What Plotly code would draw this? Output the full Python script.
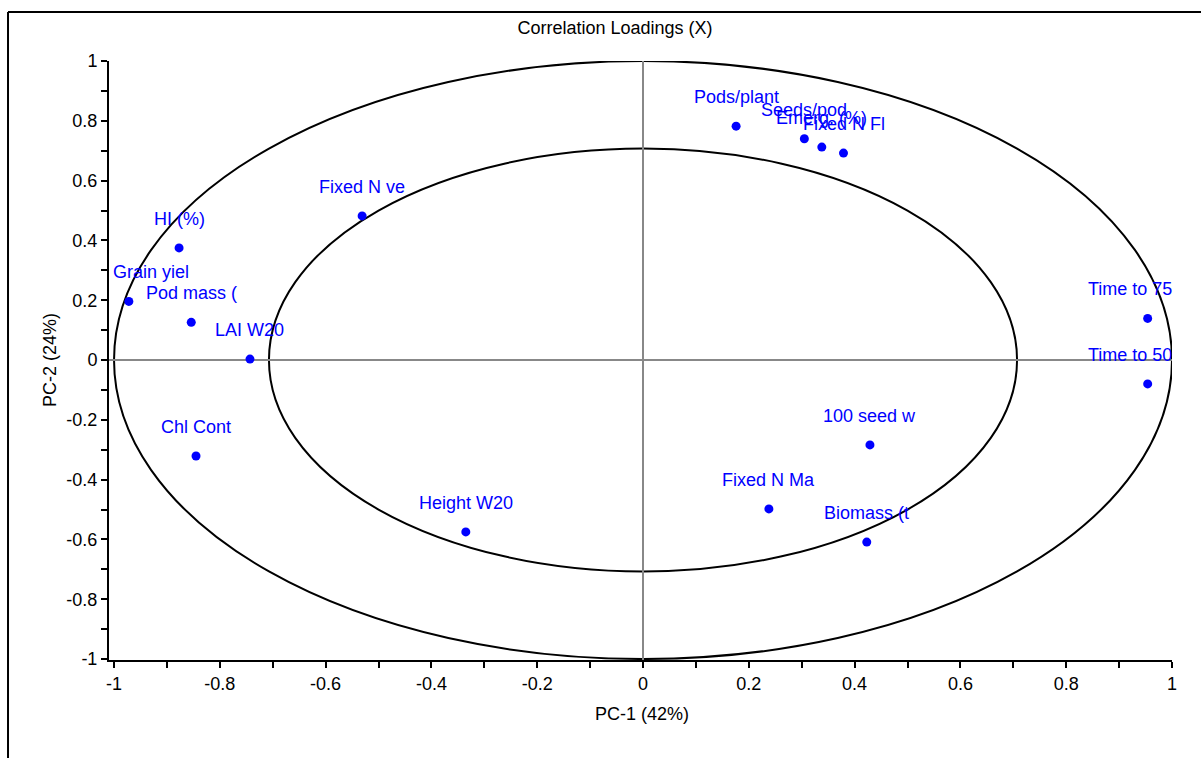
import plotly.graph_objects as go

# ---- data ----
labels = ["Pods/plant", "Seeds/pod", "Emerg. (%)", "Fixed N Fl", "Fixed N ve",
          "HI (%)", "Grain yiel", "Pod mass (", "LAI W20", "Chl Cont",
          "Height W20", "Fixed N Ma", "Biomass (t", "100 seed w",
          "Time to 75", "Time to 50"]
pc1 = [0.176, 0.305, 0.338, 0.379, -0.531, -0.877, -0.972, -0.854, -0.743,
       -0.845, -0.335, 0.238, 0.423, 0.429, 0.954, 0.954]
pc2 = [0.782, 0.740, 0.712, 0.692, 0.482, 0.375, 0.196, 0.126, 0.003,
       -0.321, -0.575, -0.498, -0.609, -0.284, 0.139, -0.080]
# label horizontal nudges (pixels) to keep labels inside the plot area
label_xshift = [0, 0, 0, 0, 0, 0, 22, 0, 0, 0, 0, 0, 0, 0, -18, -18]

tick_vals = [round(-1 + 0.1 * i, 1) for i in range(21)]
tick_text = [("%g" % v) if i % 2 == 0 else "" for i, v in enumerate(tick_vals)]

outer_r = 1.0
inner_r = 0.5 ** 0.5

FONT = "Liberation Sans, Arial, sans-serif"
BLUE = "#0000FF"

fig = go.Figure()
fig.add_trace(go.Scatter(
    x=pc1, y=pc2, mode="markers",
    marker=dict(color=BLUE, size=9),
    hovertext=labels, showlegend=False))

for lab, x, y, xs in zip(labels, pc1, pc2, label_xshift):
    fig.add_annotation(x=x, y=y, text=lab, showarrow=False,
                       xanchor="center", yanchor="middle",
                       xshift=xs, yshift=29,
                       font=dict(family=FONT, size=18, color=BLUE))

# correlation circles
for r in (outer_r, inner_r):
    fig.add_shape(type="circle", xref="x", yref="y",
                  x0=-r, x1=r, y0=-r, y1=r,
                  line=dict(color="black", width=2), layer="below")

# outer frame (left and top border)
fig.add_shape(type="line", xref="paper", yref="paper",
              x0=-0.095, x1=-0.095, y0=1.0818, y1=-0.17,
              line=dict(color="black", width=2))
fig.add_shape(type="line", xref="paper", yref="paper",
              x0=-0.095, x1=1.03, y0=1.0818, y1=1.0818,
              line=dict(color="black", width=2))

axis_common = dict(
    tickvals=tick_vals, ticktext=tick_text,
    ticks="outside", ticklen=6, tickwidth=2, tickcolor="black",
    showline=True, linecolor="black", linewidth=2,
    showgrid=False, zeroline=True, zerolinecolor="#888888", zerolinewidth=2,
    tickfont=dict(family=FONT, size=18, color="black"),
)

fig.update_xaxes(range=[-1.0095, 1.0], **axis_common)
fig.update_yaxes(range=[-1.0033, 1.0], **axis_common)

fig.add_annotation(text="PC-1 (42%)", xref="paper", yref="paper",
                   x=(641.5 - 109) / 1063, y=(660 - 714) / 599,
                   showarrow=False, xanchor="center", yanchor="middle",
                   font=dict(family=FONT, size=18, color="black"))
fig.add_annotation(text="PC-2 (24%)", xref="paper", yref="paper",
                   x=(50 - 109) / 1063, y=(660 - 360) / 599, textangle=-90,
                   showarrow=False, xanchor="center", yanchor="middle",
                   font=dict(family=FONT, size=18, color="black"))

fig.update_layout(
    width=1201, height=758,
    margin=dict(l=109, r=29, t=61, b=98),
    paper_bgcolor="white", plot_bgcolor="white",
    title=dict(text="Correlation Loadings (X)", x=(615 - 109) / 1063,
               xref="paper", xanchor="center", y=1 - 28 / 758,
               yanchor="middle",
               font=dict(family=FONT, size=18, color="black")),
)

fig.write_html("out.html")
